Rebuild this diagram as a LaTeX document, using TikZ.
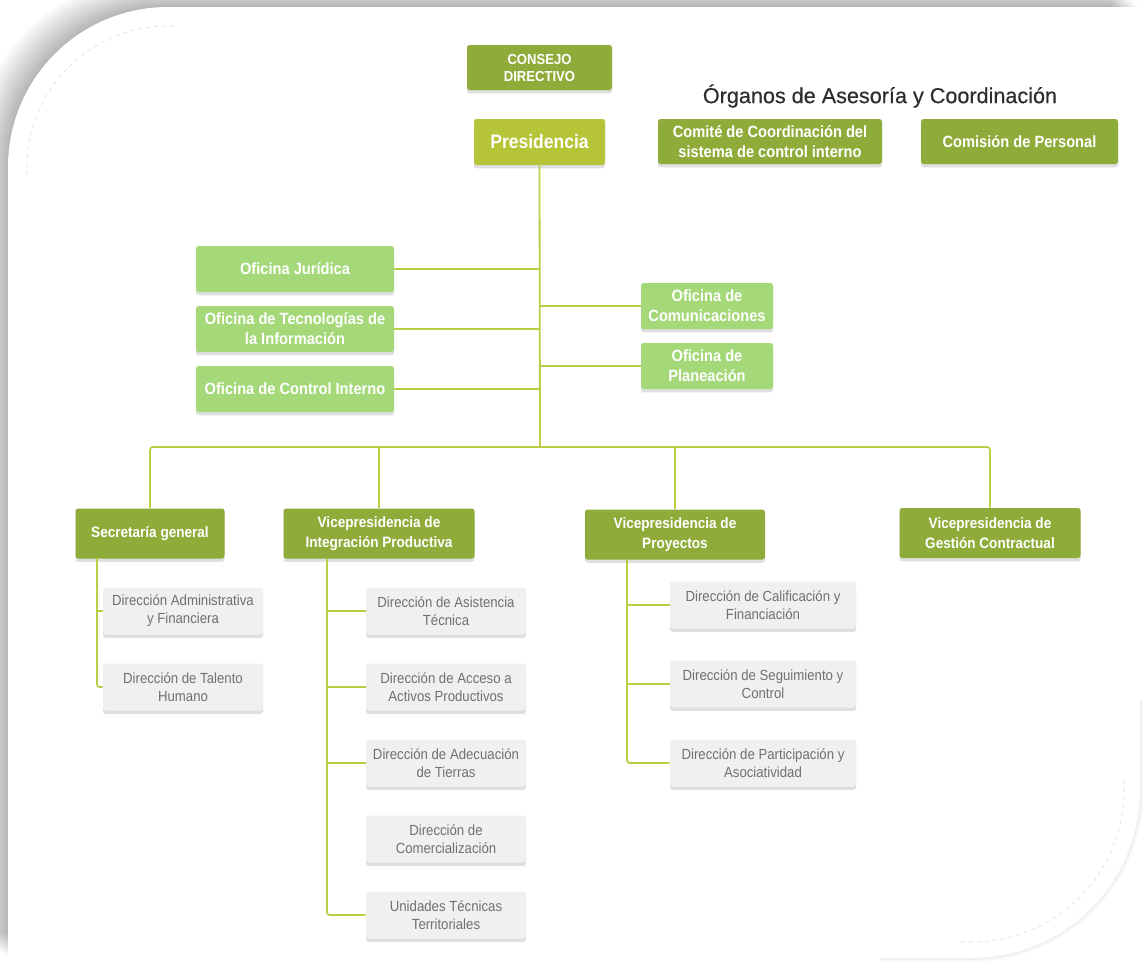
\documentclass[tikz,border=0pt]{standalone}
\usepackage{fontspec}
\setmainfont{Liberation Sans}
\newfontfamily\boxfont{Liberation Sans}[FakeStretch=0.9]
\newfontfamily\titlefont{Liberation Sans}[FakeBold=0.4]
\usepackage{tikz}
\usetikzlibrary{shadows}

\definecolor{verdeosc}{RGB}{143,172,58}
\definecolor{lima}{RGB}{181,197,55}
\definecolor{verdeclaro}{RGB}{164,216,120}
\definecolor{grisfondo}{RGB}{240,240,240}
\definecolor{gristexto}{RGB}{112,112,112}
\definecolor{linea}{RGB}{190,205,70}
\definecolor{titulo}{RGB}{45,45,45}

\tikzstyle{caja} = [rectangle, rounded corners=2pt, align=center, inner sep=0pt, text centered, drop shadow={shadow xshift=0pt, shadow yshift=-2.5pt, opacity=0.25}]
\tikzstyle{consejo} = [caja, fill=verdeosc, minimum width=108.75pt, minimum height=33.75pt, text=white, font=\boxfont\bfseries\fontsize{10.9}{12.75}\selectfont]
\tikzstyle{presid} = [caja, fill=lima, minimum width=98.25pt, minimum height=34.5pt, text=white, font=\boxfont\bfseries\fontsize{14.6}{16}\selectfont]
\tikzstyle{organo} = [caja, fill=verdeosc, minimum height=33.75pt, text=white, font=\boxfont\bfseries\fontsize{12.2}{15}\selectfont]
\tikzstyle{oficina} = [caja, fill=verdeclaro, minimum width=148.5pt, minimum height=34.5pt, text=white, font=\boxfont\bfseries\fontsize{12.2}{15}\selectfont]
\tikzstyle{vice} = [caja, fill=verdeosc, minimum height=37.5pt, text=white, font=\boxfont\bfseries\fontsize{11.3}{15}\selectfont]
\tikzstyle{direc} = [caja, fill=grisfondo, minimum width=120pt, minimum height=35.25pt, text=gristexto, font=\boxfont\fontsize{11}{13.5}\selectfont]
\tikzstyle{link} = [linea, line width=1.35pt, rounded corners=2pt]

\newcommand{\pagina}{(8,1010) -- (8,167) arc[start angle=180, end angle=270, radius=160] -- (1140,7) -- (1140,790) arc[start angle=0, end angle=90, radius=168] -- (8,958) -- cycle}

\begin{document}
\begin{tikzpicture}[x=0.75pt, y=-0.75pt, node distance=57pt]
\useasboundingbox (0,0) rectangle (1143,965);
% fondo con sombra
\fill[white] (0,0) rectangle (1143,965);
\foreach \i in {1,...,24}
  \fill[black, opacity=0.013, shift={(-\i*1.2,-\i*1.0)}] \pagina;
\foreach \i in {1,...,6}
  \draw[black, opacity=0.012, line width=\i*1pt] (1140,700) -- (1140,790) arc[start angle=0, end angle=90, radius=168] -- (880,958);
\fill[white] \pagina;
\draw[black!15, dashed, line width=0.4pt] (27,175) -- (27,167) arc[start angle=180, end angle=270, radius=141] -- (175,26);
\draw[black!15, dashed, line width=0.4pt] (1124,780) -- (1124,790) arc[start angle=0, end angle=90, radius=152] -- (960,942);

% cabeza
\node (consejo) [consejo] at (539.5,67.5) {CONSEJO\\DIRECTIVO};
\node (pres) [presid] at (539.5,142) {Presidencia};
\node (titulo) at (880,96) [text=titulo, font=\titlefont\fontsize{16.2}{18}\selectfont] {Órganos de Asesoría y Coordinación};
\node (comite) [organo, minimum width=168pt] at (770,141.5) {Comité de Coordinación del\\sistema de control interno};
\node (comision) [organo, minimum width=147.75pt] at (1019.5,141.5) {Comisión de Personal};

% oficinas
\node (jur) [oficina] at (295,269) {Oficina Jurídica};
\node (tec) [oficina, below of=jur, node distance=45pt] {Oficina de Tecnologías de\\la Información};
\node (ctrl) [oficina, below of=tec, node distance=45pt] {Oficina de Control Interno};
\node (com) [oficina, minimum width=99pt] at (707,306) {Oficina de\\Comunicaciones};
\node (plan) [oficina, minimum width=99pt, below of=com, node distance=45pt] {Oficina de\\Planeación};

% vicepresidencias
\node (sec) [vice, minimum width=111.75pt] at (150,533.5) {Secretaría general};
\node (vpi) [vice, minimum width=143.25pt] at (379,533.5) {Vicepresidencia de\\Integración Productiva};
\node (vpp) [vice, minimum width=135pt] at (675,534.5) {Vicepresidencia de\\Proyectos};
\node (vpg) [vice, minimum width=135.75pt] at (990,533) {Vicepresidencia de\\Gestión Contractual};

% direcciones
\node (admin) [direc] at (183,611) {Dirección Administrativa\\y Financiera};
\node (tal) [direc, below of=admin] {Dirección de Talento\\Humano};
\node (asis) [direc] at (446,611) {Dirección de Asistencia\\Técnica};
\node (acc) [direc, below of=asis] {Dirección de Acceso a\\Activos Productivos};
\node (adec) [direc, below of=acc] {Dirección de Adecuación\\de Tierras};
\node (comer) [direc, below of=adec] {Dirección de\\Comercialización};
\node (unid) [direc, below of=comer] {Unidades Técnicas\\Territoriales};
\node (cal) [direc, minimum width=139.5pt] at (763,605) {Dirección de Calificación y\\Financiación};
\node (seg) [direc, minimum width=139.5pt, below of=cal, node distance=59.25pt] {Dirección de Seguimiento y\\Control};
\node (part) [direc, minimum width=139.5pt, below of=seg, node distance=59.25pt] {Dirección de Participación y\\Asociatividad};

\coordinate (bus) at (540,447);
\coordinate (secsp) at (97,558);
\coordinate (vpisp) at (327,559);
\coordinate (vppsp) at (627,560);

% conectores
\draw [link] (pres.south) -- (bus);
\draw [link] (jur.east) -- (jur.east -| bus);
\draw [link] (tec.east) -- (tec.east -| bus);
\draw [link] (ctrl.east) -- (ctrl.east -| bus);
\draw [link] (com.west) -- (com.west -| bus);
\draw [link] (plan.west) -- (plan.west -| bus);
\draw [link] (sec.north) |- (bus) -| (vpg.north);
\draw [link] (vpi.north) -- (vpi.north |- bus);
\draw [link] (vpp.north) -- (vpp.north |- bus);
\draw [link] (secsp) |- (tal.west);
\draw [link] (admin.west) -- (admin.west -| secsp);
\draw [link] (vpisp) |- (unid.west);
\draw [link] (asis.west) -- (asis.west -| vpisp);
\draw [link] (acc.west) -- (acc.west -| vpisp);
\draw [link] (adec.west) -- (adec.west -| vpisp);
\draw [link] (vppsp) |- (part.west);
\draw [link] (cal.west) -- (cal.west -| vppsp);
\draw [link] (seg.west) -- (seg.west -| vppsp);
\end{tikzpicture}
\end{document}
